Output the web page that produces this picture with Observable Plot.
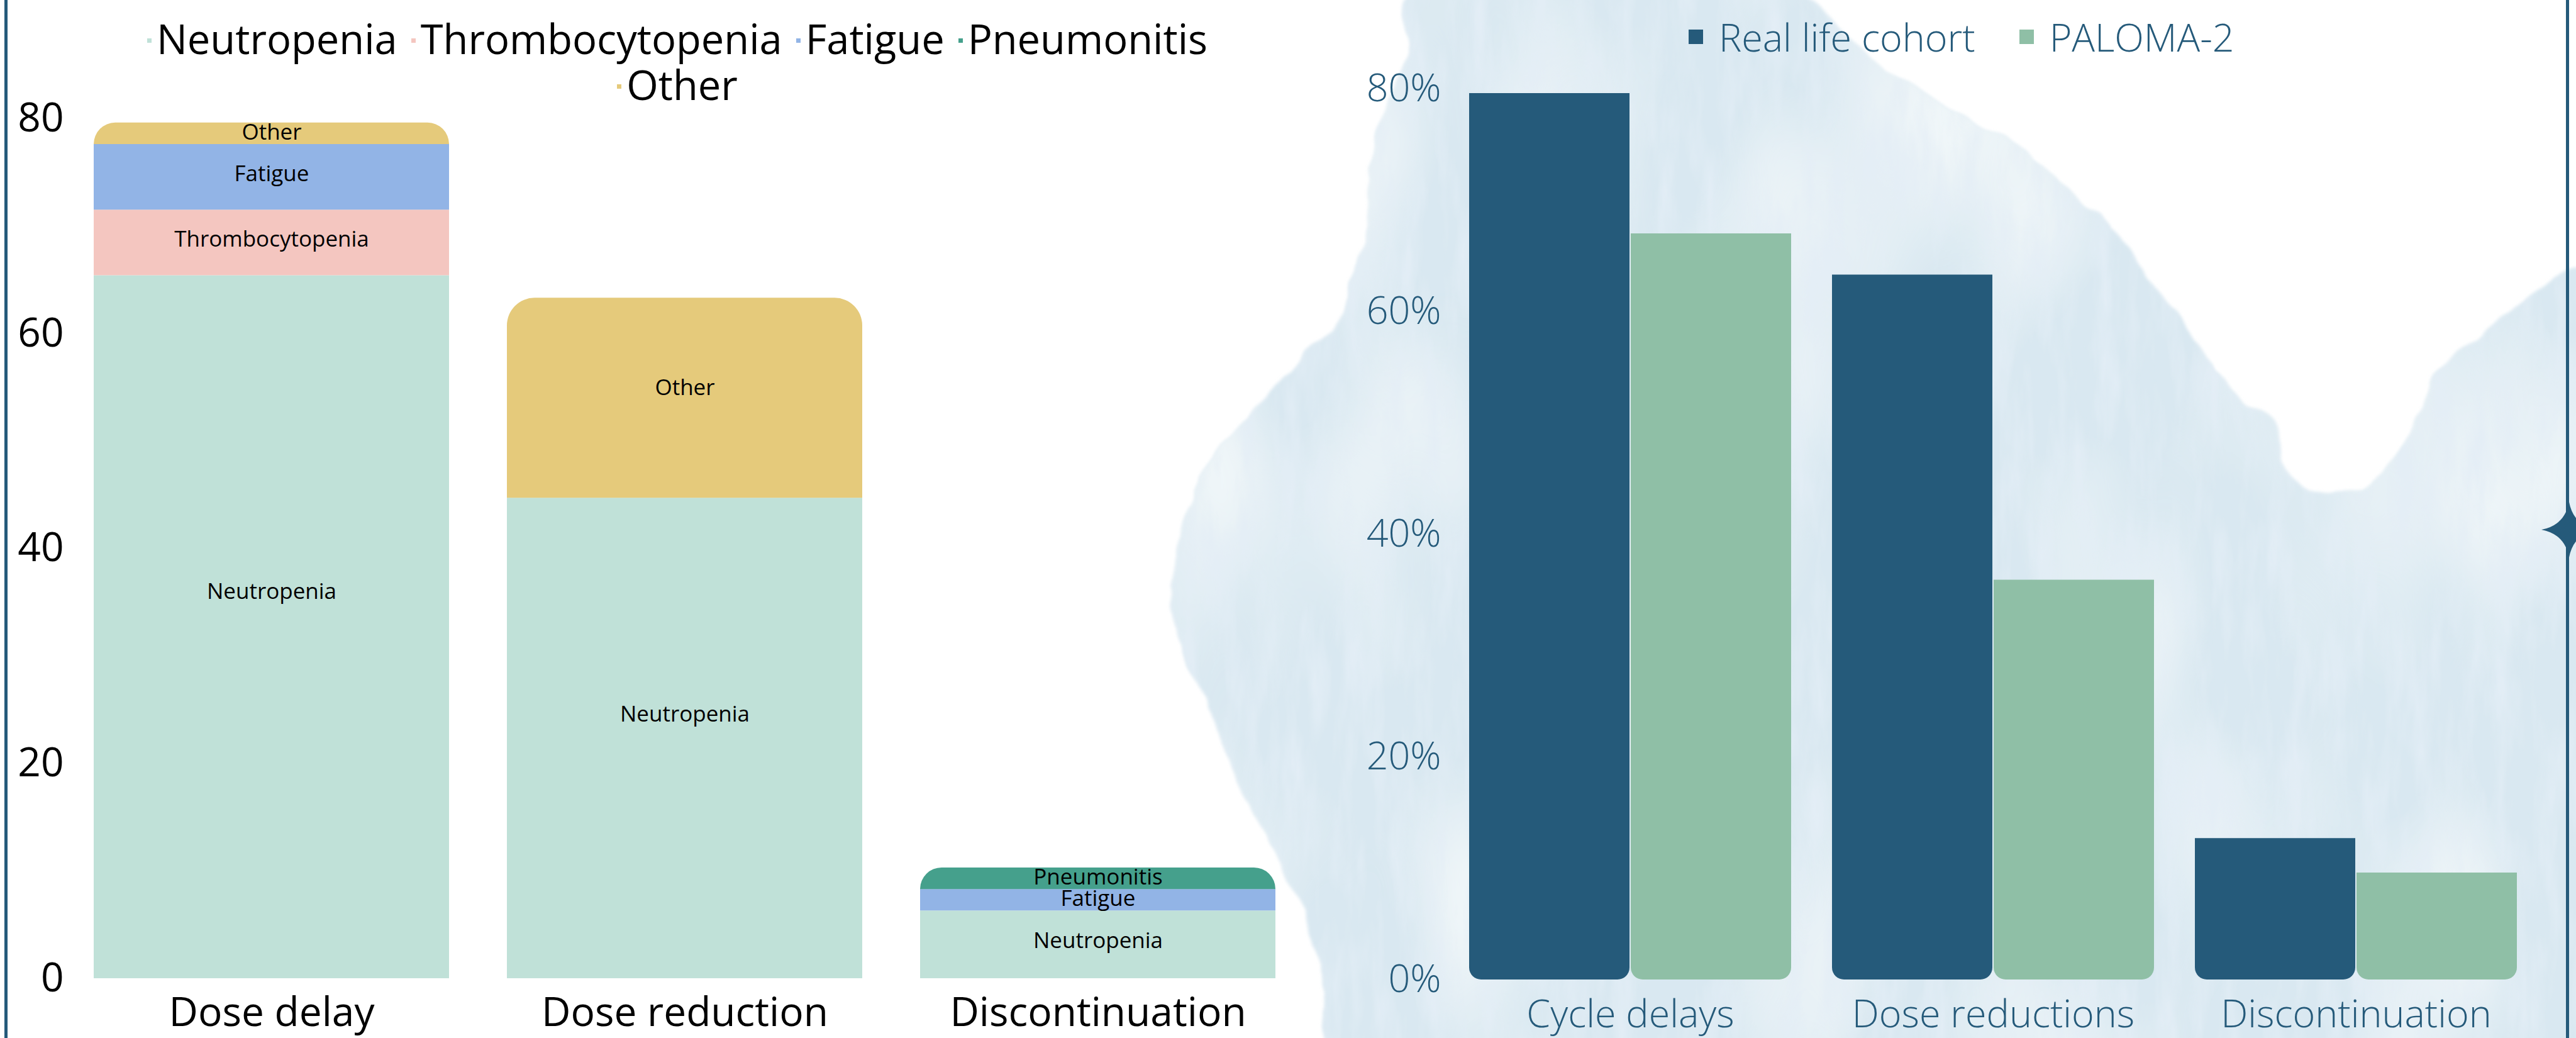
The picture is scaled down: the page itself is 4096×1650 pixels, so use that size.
<!DOCTYPE html>
<html>
<head>
<meta charset="utf-8">
<script src="https://cdn.jsdelivr.net/npm/d3@7"></script>
<script src="https://cdn.jsdelivr.net/npm/@observablehq/plot@0.6"></script>
<style>
html, body { margin: 0; padding: 0; background: #ffffff; }
#page { position: relative; width: 4096px; height: 1650px; overflow: hidden; font-family: "Open Sans", sans-serif; background: #ffffff; }
#bg { position: absolute; left: 0; top: 0; }
.legend { position: absolute; display: flex; flex-wrap: wrap; }
#leftLegend { left: 162px; top: 25px; width: 1830px; justify-content: center; column-gap: 22px; font-size: 65px; line-height: 73px; color: #000; }
#leftLegend .item { white-space: nowrap; height: 73px; }
#leftLegend .txt { display: inline-block; height: 73px; line-height: 73px; overflow: visible; }
#leftLegend .sw { display: inline-block; width: 7px; height: 7px; vertical-align: 18px; margin-right: 8px; }
#rightLegend { left: 2685px; top: 22px; column-gap: 70px; font-size: 61px; line-height: 73px; font-weight: 300; color: #255a7a; }
#rightLegend .item { display: flex; align-items: center; white-space: nowrap; height: 73px; }
#rightLegend .txt { display: inline-block; height: 73px; line-height: 73px; }
#rightLegend .sw { display: inline-block; width: 23px; height: 23px; margin-right: 25px; }
#leftChart { position: absolute; left: 0; top: 170px; }
#rightChart { position: absolute; left: 2045px; top: 100px; }
#leftChart svg, #rightChart svg { max-width: none; background: transparent; overflow: visible; }
</style>
</head>
<body>
<div id="page">
  <svg id="bg" width="4096" height="1650"></svg>
  <div id="leftLegend" class="legend"></div>
  <div id="rightLegend" class="legend"></div>
  <div id="leftChart"></div>
  <div id="rightChart"></div>
</div>
<script>
// ---------------- data ----------------
const leftCategories = ["Dose delay", "Dose reduction", "Discontinuation"];
const adverseEvents = ["Neutropenia", "Thrombocytopenia", "Fatigue", "Pneumonitis", "Other"];
const neutropenia = [65.4, 44.7, 6.3];
const thrombocytopenia = [6.1, 0, 0];
const fatigue = [6.1, 0, 2.0];
const pneumonitis = [0, 0, 2.0];
const other = [2.0, 18.6, 0];
const eventColors = ["#c0e1d8", "#f4c6c0", "#92b4e6", "#45a08c", "#e5ca7b"];
const leftTicks = [0, 20, 40, 60, 80];

const rightCategories = ["Cycle delays", "Dose reductions", "Discontinuation"];
const cohorts = ["Real life cohort", "PALOMA-2"];
const realLife = [79.6, 63.3, 12.7];
const paloma2 = [67.0, 35.9, 9.6];
const cohortColors = ["#255a7a", "#8fbfa6"];
const rightTicks = [0, 20, 40, 60, 80];

// ---------------- background decoration (watercolour blob, frame, star) ----------------
const bg = d3.select("#bg");
const defs = bg.append("defs");
const filt = defs.append("filter").attr("id", "wc").attr("x", "-5%").attr("y", "-5%").attr("width", "110%").attr("height", "110%");
filt.append("feTurbulence").attr("type", "fractalNoise").attr("baseFrequency", "0.012").attr("numOctaves", 3).attr("seed", 3).attr("result", "noise");
filt.append("feDisplacementMap").attr("in", "SourceGraphic").attr("in2", "noise").attr("scale", 28).attr("xChannelSelector", "R").attr("yChannelSelector", "G").attr("result", "disp");
filt.append("feGaussianBlur").attr("in", "disp").attr("stdDeviation", 2.5).attr("result", "blur");
filt.append("feTurbulence").attr("type", "fractalNoise").attr("baseFrequency", "0.03 0.006").attr("numOctaves", 4).attr("seed", 11).attr("result", "tex");
filt.append("feColorMatrix").attr("in", "tex").attr("type", "matrix")
  .attr("values", "0 0 0 0 0.77  0 0 0 0 0.85  0 0 0 0 0.92  2.0 0 0 0 -0.82").attr("result", "texc");
filt.append("feComposite").attr("in", "texc").attr("in2", "blur").attr("operator", "in").attr("result", "texIn");
filt.append("feTurbulence").attr("type", "fractalNoise").attr("baseFrequency", "0.004 0.002").attr("numOctaves", 2).attr("seed", 21).attr("result", "tex2");
filt.append("feColorMatrix").attr("in", "tex2").attr("type", "matrix")
  .attr("values", "0 0 0 0 0.91  0 0 0 0 0.95  0 0 0 0 0.96  2.2 0 0 0 -1.0").attr("result", "lightc");
filt.append("feComposite").attr("in", "lightc").attr("in2", "blur").attr("operator", "in").attr("result", "lightIn");
const merge = filt.append("feMerge");
merge.append("feMergeNode").attr("in", "blur");
merge.append("feMergeNode").attr("in", "lightIn");
merge.append("feMergeNode").attr("in", "texIn");

const blobPts = [
  [2251, -20], [2236, 105], [2193, 210], [2178, 315], [2157, 421], [2121, 526], [2049, 589], [1977, 673],
  [1920, 736], [1876, 841], [1869, 946], [1891, 1052], [1934, 1157], [1977, 1262], [2035, 1367],
  [2078, 1472], [2107, 1577], [2121, 1680], [4130, 1680], [4130, 421],
  [4038, 462], [3952, 526], [3880, 589], [3851, 652], [3793, 747], [3750, 778], [3678, 789],
  [3634, 736], [3620, 673], [3562, 631], [3490, 547], [3419, 452], [3361, 368], [3274, 284],
  [3130, 189], [2986, 105], [2842, -20]
];
const blobD = d3.line().curve(d3.curveCatmullRomClosed.alpha(0.5))(blobPts);
bg.append("path").attr("d", blobD).attr("fill", "#d9e8f1").attr("filter", "url(#wc)");

bg.append("rect").attr("x", 7).attr("y", 0).attr("width", 5).attr("height", 1650).attr("fill", "#255a7a");
bg.append("rect").attr("x", 4080).attr("y", 0).attr("width", 5).attr("height", 1650).attr("fill", "#255a7a");
{
  const cx = 4085, cy = 842, r = 44, k = 7;
  const d = `M${cx},${cy - r} Q${cx + k},${cy - k} ${cx + r},${cy} Q${cx + k},${cy + k} ${cx},${cy + r} Q${cx - k},${cy + k} ${cx - r},${cy} Q${cx - k},${cy - k} ${cx},${cy - r}Z`;
  bg.append("path").attr("d", d).attr("fill", "#255a7a");
}

// ---------------- legends ----------------
const ll = d3.select("#leftLegend");
adverseEvents.forEach((e, i) => {
  const it = ll.append("span").attr("class", "item");
  it.append("span").attr("class", "sw").style("background", eventColors[i]);
  it.append("span").attr("class", "txt").text(e);
});
const rl = d3.select("#rightLegend");
cohorts.forEach((c, i) => {
  const it = rl.append("span").attr("class", "item");
  it.append("span").attr("class", "sw").style("background", cohortColors[i]);
  it.append("span").attr("class", "txt").text(c);
});

// ---------------- left stacked chart ----------------
const series = [neutropenia, thrombocytopenia, fatigue, pneumonitis, other];
const rows = [];
leftCategories.forEach((cat, i) => {
  let acc = 0;
  const catRows = [];
  adverseEvents.forEach((ev, j) => {
    const v = series[j][i];
    if (v > 0) {
      catRows.push({cat, event: ev, y1: acc, y2: acc + v, top: false});
      acc += v;
    }
  });
  catRows[catRows.length - 1].top = true;
  rows.push(...catRows);
});

const leftPlot = Plot.plot({
  width: 2045,
  height: 1480,
  marginLeft: 149,
  marginRight: 17,
  marginTop: 18,
  marginBottom: 95,
  style: "font-family: 'Open Sans', sans-serif; font-size: 64px; color: #000; background: transparent; overflow: visible;",
  x: {domain: leftCategories, paddingInner: 0.1406, paddingOuter: 0, label: null, tickSize: 0, tickPadding: 30},
  y: {domain: [0, 80], ticks: leftTicks, label: null, tickSize: 0, tickPadding: 48},
  color: {domain: adverseEvents, range: eventColors},
  marks: [
    Plot.barY(rows.filter(d => !d.top), {x: "cat", y1: "y1", y2: "y2", fill: "event"}),
    Plot.barY(rows.filter(d => d.top), {x: "cat", y1: "y1", y2: "y2", fill: "event", ry1: 44}),
    Plot.text(rows, {x: "cat", y: d => d.y1 + 0.55 * (d.y2 - d.y1), text: "event", fontSize: 35, fill: "#000"})
  ]
});
document.getElementById("leftChart").append(leftPlot);

// ---------------- right grouped chart ----------------
const rrows = [];
rightCategories.forEach((cat, i) => {
  rrows.push({cat, cohort: cohorts[0], value: realLife[i]});
  rrows.push({cat, cohort: cohorts[1], value: paloma2[i]});
});

const rightPlot = Plot.plot({
  width: 2051,
  height: 1550,
  marginLeft: 289,
  marginRight: 92,
  marginTop: 41,
  marginBottom: 93,
  style: "font-family: 'Open Sans', sans-serif; font-size: 61px; font-weight: 300; color: #255a7a; background: transparent; overflow: visible;",
  fx: {domain: rightCategories, paddingInner: 0.109, paddingOuter: 0, label: null, axis: "bottom", tickSize: 0, tickPadding: 32},
  x: {domain: cohorts, axis: null, paddingInner: 0.006, paddingOuter: 0},
  y: {domain: [0, 80], ticks: rightTicks, tickFormat: d => d + "%", label: null, tickSize: 0, tickPadding: 44},
  color: {domain: cohorts, range: cohortColors},
  marks: [
    Plot.barY(rrows, {fx: "cat", x: "cohort", y: "value", fill: "cohort", ry2: 19})
  ]
});
document.getElementById("rightChart").append(rightPlot);
</script>
</body>
</html>
